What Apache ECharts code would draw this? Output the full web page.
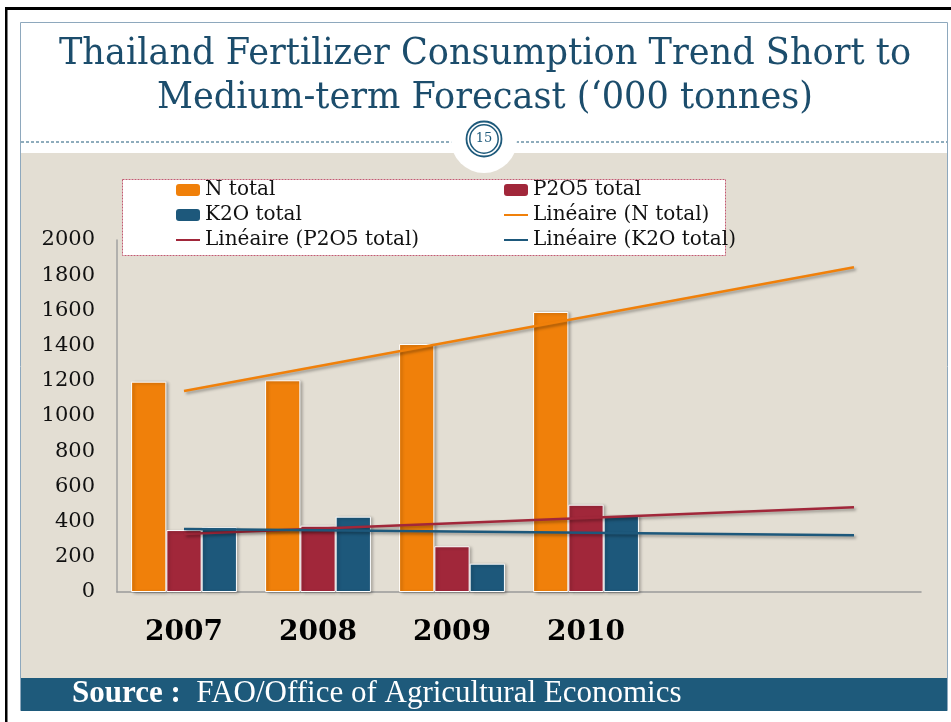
<!DOCTYPE html>
<html>
<head>
<meta charset="utf-8">
<title>Thailand Fertilizer Consumption</title>
<script src="https://cdn.jsdelivr.net/npm/echarts@6/dist/echarts.min.js"></script>
<style>
  html, body { margin: 0; padding: 0; background: #fff; }
  #chart { width: 951px; height: 722px; }
</style>
</head>
<body>
<div id="chart"></div>
<script>
// data
const years = ['2007', '2008', '2009', '2010', '', ''];
const nTotal = [1195, 1203, 1409, 1591];
const p2o5Total = [352, 377, 260, 496];
const k2oTotal = [368, 428, 161, 432];
// Excel linear trend lines: start (2007) and end (last forecast slot)
const nTrend = [1142, null, null, null, null, 1845];
const p2o5Trend = [330, null, null, null, null, 481];
const k2oTrend = [358, null, null, null, null, 322];
const yTicks = { min: 0, max: 2000, step: 200 };

const ORANGE = '#f0800a', RED = '#a1273a', BLUE = '#1d587b';
const SLIDE_BLUE = '#1e5a7b';

let chart = echarts.init(document.getElementById('chart'));

let barStyle = color => ({
  color: color,
  borderColor: '#fff',
  borderWidth: 1,
  shadowBlur: 3,
  shadowColor: 'rgba(0,0,0,0.3)',
  shadowOffsetX: 2,
  shadowOffsetY: 1
});
let trendStyle = color => ({
  color: color,
  width: 2.5,
  shadowBlur: 3,
  shadowColor: 'rgba(0,0,0,0.35)',
  shadowOffsetX: 2,
  shadowOffsetY: 2
});
let legendText = { fontFamily: 'DejaVu Serif', fontSize: 20, color: '#111', lineHeight: 20 };
// line entries: keep only the stroke, hide the default dot
let lineEntry = name => ({ name: name, itemStyle: { opacity: 0 } });

let option = {
  animation: false,
  backgroundColor: '#fff',
  graphic: [
    // page frame
    { type: 'rect', z: -10, shape: { x: 5, y: 7, width: 946, height: 3 }, style: { fill: '#000' } },
    { type: 'rect', z: -10, shape: { x: 5, y: 7, width: 2.5, height: 715 }, style: { fill: '#000' } },
    { type: 'rect', z: -10, shape: { x: 20.5, y: 22.5, width: 927, height: 688 }, style: { fill: '#fff', stroke: '#8ea8bd', lineWidth: 1 } },
    { type: 'rect', z: -9, shape: { x: 21, y: 153, width: 926, height: 525 }, style: { fill: '#e3ded3' } },
    { type: 'rect', z: -9, shape: { x: 21, y: 678, width: 926, height: 33 }, style: { fill: SLIDE_BLUE } },
    { type: 'line', z: -9, shape: { x1: 21, y1: 142, x2: 947, y2: 142 }, style: { stroke: SLIDE_BLUE, lineWidth: 1, lineDash: [3, 2] } },
    // page number badge
    { type: 'circle', z: -8, shape: { cx: 484, cy: 140, r: 33 }, style: { fill: '#fff' } },
    { type: 'circle', z: -7, shape: { cx: 484, cy: 139, r: 17.5 }, style: { fill: 'none', stroke: SLIDE_BLUE, lineWidth: 1.8 } },
    { type: 'circle', z: -7, shape: { cx: 484, cy: 139, r: 14.2 }, style: { fill: 'none', stroke: SLIDE_BLUE, lineWidth: 1.5 } },
    { type: 'text', z: -7, style: { x: 484, y: 139, text: '15', fill: SLIDE_BLUE, font: '13px "DejaVu Serif"', textAlign: 'center', textVerticalAlign: 'middle' } },
    // title (squeezed a little to the width of the original serif)
    { type: 'text', z: -7, x: 485, y: 54, scaleX: 0.925, style: { x: 0, y: 0, text: 'Thailand Fertilizer Consumption Trend Short to', fill: '#1c4d6c', font: '38px "DejaVu Serif"', textAlign: 'center', textVerticalAlign: 'middle' } },
    { type: 'text', z: -7, x: 485, y: 98, scaleX: 0.925, style: { x: 0, y: 0, text: 'Medium-term Forecast (\u2018000 tonnes)', fill: '#1c4d6c', font: '38px "DejaVu Serif"', textAlign: 'center', textVerticalAlign: 'middle' } },
    // legend frame
    { type: 'rect', z: 3, shape: { x: 122.5, y: 179.5, width: 603, height: 76 }, style: { fill: '#fff', stroke: '#c25a72', lineWidth: 1, lineDash: [2, 1] } },
    // source bar
    {
      type: 'text', z: -7,
      style: {
        x: 72, y: 694,
        text: '{b|Source :}  FAO/Office of Agricultural Economics',
        fill: '#fff',
        font: '31px "Liberation Serif"',
        textVerticalAlign: 'middle',
        rich: { b: { fontFamily: 'Liberation Serif', fontSize: 31, fontWeight: 'bold', fill: '#fff' } }
      }
    }
  ],
  legend: [
    {
      left: 175, top: 180, padding: 0, orient: 'vertical', z: 4,
      itemWidth: 24, itemHeight: 12, itemGap: 5,
      itemStyle: { borderWidth: 0, shadowBlur: 0 },
      lineStyle: { shadowBlur: 0, width: 2 },
      textStyle: legendText,
      data: ['N total', 'K2O total', lineEntry('Linéaire (P2O5 total)')]
    },
    {
      left: 503, top: 180, padding: 0, orient: 'vertical', z: 4,
      itemWidth: 24, itemHeight: 12, itemGap: 5,
      itemStyle: { borderWidth: 0, shadowBlur: 0 },
      lineStyle: { shadowBlur: 0, width: 2 },
      textStyle: legendText,
      data: ['P2O5 total', lineEntry('Linéaire (N total)'), lineEntry('Linéaire (K2O total)')]
    }
  ],
  grid: { left: 117, right: 30, top: 240, bottom: 130 },
  xAxis: {
    type: 'category',
    data: years,
    axisLine: { lineStyle: { color: '#9a9a9a', width: 1.5 } },
    axisTick: { show: false },
    axisLabel: {
      margin: 27,
      fontFamily: 'DejaVu Serif', fontSize: 28, fontWeight: 'bold', color: '#000', lineHeight: 28
    }
  },
  yAxis: {
    type: 'value',
    min: yTicks.min, max: yTicks.max, interval: yTicks.step,
    axisLine: { show: true, lineStyle: { color: '#a0a0a0', width: 1.5 } },
    axisTick: { show: false },
    splitLine: { show: false },
    axisLabel: { margin: 22, fontFamily: 'DejaVu Serif', fontSize: 21, color: '#111', formatter: v => String(v) }
  },
  series: [
    { name: 'N total', type: 'bar', data: nTotal, barGap: '0%', barCategoryGap: '21%', itemStyle: barStyle(ORANGE) },
    { name: 'P2O5 total', type: 'bar', data: p2o5Total, barGap: '0%', barCategoryGap: '21%', itemStyle: barStyle(RED) },
    { name: 'K2O total', type: 'bar', data: k2oTotal, barGap: '0%', barCategoryGap: '21%', itemStyle: barStyle(BLUE) },
    { name: 'Linéaire (N total)', type: 'line', data: nTrend, connectNulls: true, symbol: 'none', z: 5, lineStyle: trendStyle(ORANGE), itemStyle: { color: ORANGE } },
    { name: 'Linéaire (P2O5 total)', type: 'line', data: p2o5Trend, connectNulls: true, symbol: 'none', z: 5, lineStyle: trendStyle(RED), itemStyle: { color: RED } },
    { name: 'Linéaire (K2O total)', type: 'line', data: k2oTrend, connectNulls: true, symbol: 'none', z: 5, lineStyle: trendStyle(BLUE), itemStyle: { color: BLUE } }
  ]
};

chart.setOption(option);
</script>
</body>
</html>
